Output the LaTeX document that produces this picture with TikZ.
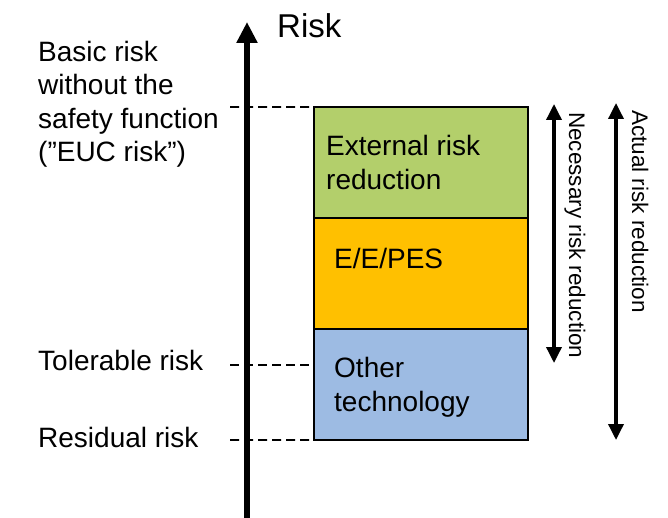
\documentclass[tikz,border=0pt]{standalone}
\usepackage{fontspec}
\setmainfont{Liberation Sans}
\usetikzlibrary{positioning,arrows.meta}
\definecolor{extgreen}{HTML}{B3CF6B}
\definecolor{eeporange}{HTML}{FFC000}
\definecolor{othblue}{HTML}{9DBBE3}
\begin{document}
\begin{tikzpicture}[x=1bp, y=-1bp,
   every node/.style={font=\fontsize{28bp}{33.5bp}\selectfont, inner sep=0pt},
   layer/.style={draw, line width=2bp, outer sep=0pt, minimum width=214bp, minimum height=111bp},
   layertext/.style={align=left, anchor=west},
   guide/.style={dash pattern=on 9bp off 5bp, line width=1.8bp},
   span/.style={{Triangle[width=15bp,length=16bp]}-{Triangle[width=15bp,length=16bp]}, line width=3.5bp},
   spantext/.style={font=\fontsize{22.5bp}{27bp}\selectfont, rotate=-90, anchor=base west}]

\useasboundingbox (0,0) rectangle (668,518);

% risk axis
\coordinate (foot) at (247,518);
\coordinate (top) at (247,22);
\draw[-{Triangle[width=20bp,length=21bp]}, line width=6bp] (foot) -- (top);
\node[font=\fontsize{33bp}{38bp}\selectfont, anchor=base west] (risk) at (277,38) {Risk};

% layers of risk reduction
\node[layer, fill=extgreen] (ext) at (421,162.5) {};
\node[layer, fill=eeporange, below=0pt of ext] (eep) {};
\node[layer, fill=othblue, below=0pt of eep] (oth) {};
\node[layertext, right=12bp of ext.west] {External risk\\reduction};
\node[layertext, right=20bp of eep.west, yshift=15bp] {E/E/PES};
\node[layertext, right=20bp of oth.west, yshift=-3bp] {Other\\technology};

% risk levels
\node[align=left, anchor=north west] (basic) at (38,41) {Basic risk\\without the\\safety function\\(”EUC risk”)};
\node[anchor=west] (tol) at (38,360) {Tolerable risk};
\node[anchor=west] (res) at (38,437) {Residual risk};
\coordinate (basic end) at (230,107);
\coordinate (tol end) at (230,365);
\coordinate (res end) at (230,440);
\draw[guide] (basic end) -- (ext.north west);
\draw[guide] (tol end) -- (tol end -| oth.west);
\draw[guide] (res end) -- (oth.south west);

% reductions
\coordinate (nec a) at (554,104);
\coordinate (nec b) at (554,363);
\coordinate (act a) at (616,103);
\coordinate (act b) at (616,440);
\draw[span] (nec a) -- (nec b);
\draw[span] (act a) -- (act b);
\node[spantext] (nec) at (569,112) {Necessary risk reduction};
\node[spantext] (act) at (632,110) {Actual risk reduction};

\end{tikzpicture}
\end{document}
